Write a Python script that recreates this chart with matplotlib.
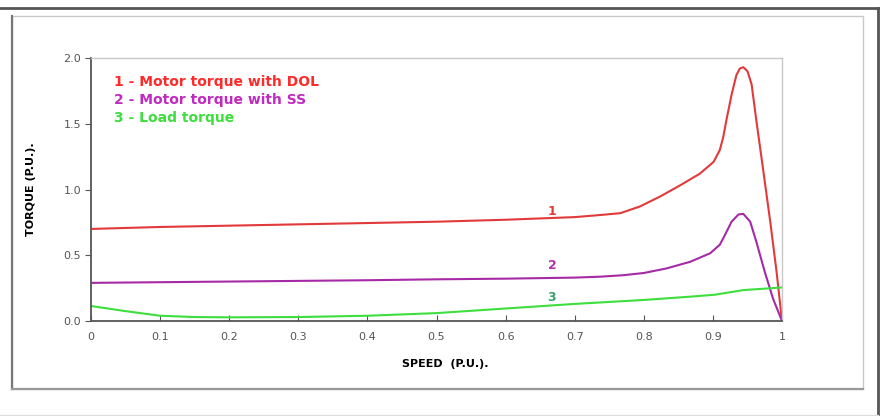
import matplotlib
matplotlib.use("Agg")
import matplotlib.pyplot as plt
from matplotlib.lines import Line2D
from matplotlib.patches import Rectangle

# speed (p.u.) and torque (p.u.)
speed_dol = [0, 0.1, 0.2, 0.3, 0.4, 0.5, 0.6, 0.7, 0.737, 0.766, 0.794,
             0.823, 0.852, 0.881, 0.901, 0.910, 0.915, 0.920, 0.927, 0.934,
             0.939, 0.944, 0.950, 0.956, 0.963, 0.973, 0.983, 0.992, 1.0]
torque_dol = [0.70, 0.715, 0.725, 0.735, 0.745, 0.755, 0.77, 0.79, 0.806,
              0.82, 0.87, 0.945, 1.03, 1.12, 1.21, 1.30, 1.40, 1.54, 1.72,
              1.87, 1.92, 1.93, 1.90, 1.80, 1.52, 1.14, 0.755, 0.38, 0.0]

speed_ss = [0, 0.1, 0.2, 0.3, 0.4, 0.5, 0.6, 0.7, 0.737, 0.77, 0.8, 0.833,
            0.867, 0.896, 0.910, 0.918, 0.927, 0.937, 0.944, 0.954, 0.963,
            0.975, 0.987, 1.0]
torque_ss = [0.29, 0.295, 0.30, 0.305, 0.31, 0.317, 0.322, 0.33, 0.337,
             0.348, 0.365, 0.40, 0.45, 0.515, 0.58, 0.66, 0.755, 0.81, 0.815,
             0.755, 0.60, 0.375, 0.17, 0.0]

speed_load = [0, 0.05, 0.1, 0.15, 0.2, 0.3, 0.4, 0.5, 0.6, 0.7, 0.8, 0.867,
              0.903, 0.944, 1.0]
torque_load = [0.114, 0.075, 0.04, 0.03, 0.028, 0.03, 0.04, 0.06, 0.095,
               0.13, 0.16, 0.185, 0.20, 0.235, 0.255]

legend_lines = ["1 - Motor torque with DOL", "2 - Motor torque with SS",
                "3 - Load torque"]
x_ticks = [0, 0.1, 0.2, 0.3, 0.4, 0.5, 0.6, 0.7, 0.8, 0.9, 1]
x_labels = ["0", "0.1", "0.2", "0.3", "0.4", "0.5", "0.6", "0.7", "0.8",
            "0.9", "1"]
y_ticks = [0.0, 0.5, 1.0, 1.5, 2.0]

fig = plt.figure(figsize=(8.84, 4.16), dpi=100)

# outer frame decoration
fig.add_artist(Line2D([0, 878 / 884], [1 - 7.5 / 416] * 2, color="#555555", lw=2))
fig.add_artist(Line2D([878 / 884] * 2, [0, 1 - 7.5 / 416], color="#555555", lw=2))
fig.add_artist(Line2D([0, 878 / 884], [1 / 416] * 2, color="#dddddd", lw=1))
fig.add_artist(Rectangle((12 / 884, 1 - 389 / 416), 851 / 884, 373 / 416,
                         fill=False, ec="#c8c8c8", lw=1))
fig.add_artist(Line2D([12 / 884] * 2, [1 - 389 / 416, 1 - 16 / 416],
                      color="#777777", lw=1.6))
fig.add_artist(Line2D([12 / 884, 863 / 884], [1 - 389 / 416] * 2,
                      color="#999999", lw=1.6))

ax = fig.add_axes([91 / 884, 1 - 321 / 416, 691 / 884, 263 / 416])
ax.plot(speed_dol, torque_dol, color="#e23a3a", lw=1.5)
ax.plot(speed_ss, torque_ss, color="#a62aa6", lw=1.5)
ax.plot(speed_load, torque_load, color="#3ede3e", lw=1.5)

ax.set_xlim(0, 1)
ax.set_ylim(0, 2)
ax.set_xticks(x_ticks)
ax.set_xticklabels(x_labels)
ax.set_yticks(y_ticks)
ax.set_yticklabels([f"{v:.1f}" for v in y_ticks])
ax.tick_params(axis="x", direction="in", length=4, color="#555555",
               labelsize=8, labelcolor="#555555", pad=8)
ax.tick_params(axis="y", direction="out", length=4, color="#555555",
               labelsize=8, labelcolor="#555555", pad=3)

for side in ["left", "bottom"]:
    ax.spines[side].set_color("#555555")
    ax.spines[side].set_linewidth(1.3)
for side in ["top", "right"]:
    ax.spines[side].set_color("#c8c8c8")
    ax.spines[side].set_linewidth(1.0)

ax.set_xlabel("SPEED  (P.U.).", fontsize=8, fontweight="bold")
ax.set_ylabel("TORQUE (P.U.).", fontsize=8, fontweight="bold")
ax.xaxis.set_label_coords(0.513, -0.145)
ax.yaxis.set_label_coords(-0.08, 0.5)

legend_colors = ["#ff2a2a", "#c02ac0", "#3ede3e"]
for i, (txt, col) in enumerate(zip(legend_lines, legend_colors)):
    ax.text(0.033, 0.91 - i * 0.0685, txt, transform=ax.transAxes,
            color=col, fontsize=10, fontweight="bold", va="center")

ax.text(0.667, 0.835, "1", color="#e23a3a", fontsize=9, fontweight="bold",
        ha="center", va="center")
ax.text(0.667, 0.42, "2", color="#b030b0", fontsize=9, fontweight="bold",
        ha="center", va="center")
ax.text(0.667, 0.175, "3", color="#3aa070", fontsize=9, fontweight="bold",
        ha="center", va="center")

fig.savefig("out.png", dpi=100)
